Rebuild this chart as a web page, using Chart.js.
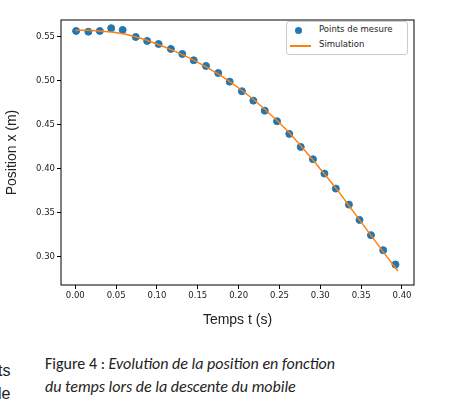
<!DOCTYPE html>
<html><head><meta charset="utf-8">
<script src="https://cdn.jsdelivr.net/npm/chart.js@4/dist/chart.umd.min.js"></script>
<style>
body{margin:0;background:#fff;width:453px;height:410px;position:relative;overflow:hidden;font-family:"Liberation Sans",Arial,sans-serif}
#wrap{position:absolute;left:0;top:0;width:453px;height:340px}
.cap{position:absolute;left:45px;font-family:Calibri,"Open Sans","Liberation Sans",sans-serif;font-size:16px;color:#222}
.frag{position:absolute;left:0;font-size:16px;color:#222}
#leg{position:absolute;left:286px;top:21px;width:120px;height:32px;border:1px solid #ccc;border-radius:3px;background:#fff;font-family:"DejaVu Sans",sans-serif;font-size:8.5px;color:#222}
</style></head><body>
<div id="wrap"><canvas id="c"></canvas></div>
<div id="leg">
<div style="position:absolute;left:8px;top:5px;width:7px;height:7px;border-radius:50%;background:#1f77b4"></div>
<div style="position:absolute;left:32px;top:2px">Points de mesure</div>
<div style="position:absolute;left:3px;top:23px;width:21px;height:1.5px;background:#ff7f0e"></div>
<div style="position:absolute;left:32px;top:17px">Simulation</div>
</div>
<div class="cap" style="top:354px">Figure 4 : <i>Evolution de la position en fonction</i></div>
<div class="cap" style="top:377px"><i>du temps lors de la descente du mobile</i></div>
<div class="frag" style="top:362px;left:-2px">ts</div>
<div class="frag" style="top:385px;left:-2px">le</div>
<script>
const measureT=[0.001,0.016,0.030,0.044,0.058,0.074,0.088,0.102,0.117,0.131,0.145,0.160,0.175,0.189,0.204,0.218,0.232,0.247,0.262,0.276,0.291,0.305,0.319,0.335,0.348,0.362,0.377,0.392];
const measureX=[0.5568,0.556,0.5568,0.560,0.558,0.550,0.5455,0.542,0.5364,0.5307,0.5235,0.517,0.509,0.4992,0.4883,0.4776,0.4662,0.4542,0.4398,0.425,0.411,0.3947,0.3776,0.3594,0.342,0.3247,0.3076,0.2913];
const simT=[0,0.02,0.04,0.06,0.08,0.10,0.12,0.14,0.16,0.18,0.20,0.22,0.24,0.26,0.28,0.30,0.32,0.34,0.36,0.38,0.395];
const simX=[0.5575,0.5575,0.556,0.5535,0.5485,0.542,0.5345,0.526,0.516,0.505,0.492,0.4775,0.461,0.443,0.422,0.400,0.377,0.352,0.327,0.302,0.284];
const frame={id:'frame',afterDraw(c){const a=c.chartArea,x=c.ctx;x.save();x.strokeStyle='#000';x.lineWidth=1;x.strokeRect(a.left,a.top,a.right-a.left,a.bottom-a.top);x.restore();}};
const tickFont={family:'DejaVu Sans',size:8.5};
new Chart(document.getElementById('c'),{
type:'scatter',
data:{datasets:[
{label:'Simulation',type:'line',data:simT.map((t,i)=>({x:t,y:simX[i]})),borderColor:'#ff7f0e',borderWidth:1.5,pointRadius:0,tension:0.3,fill:false},
{label:'Points de mesure',data:measureT.map((t,i)=>({x:t,y:measureX[i]})),backgroundColor:'#1f77b4',borderColor:'#1f77b4',pointRadius:3.5}
]},
options:{responsive:true,maintainAspectRatio:false,animation:false,
layout:{padding:{left:0,right:39,top:20,bottom:7}},
plugins:{legend:{display:false},tooltip:{enabled:false}},
scales:{
x:{type:'linear',min:-0.0175,max:0.4147,afterFit(s){s.height=48;},
afterBuildTicks(s){s.ticks=[0,0.05,0.1,0.15,0.2,0.25,0.3,0.35,0.4].map(v=>({value:v}));},
ticks:{font:tickFont,color:'#222',callback:v=>v.toFixed(2),maxRotation:0,padding:2},
grid:{drawOnChartArea:false,tickLength:4,color:'#000'},border:{display:false},
title:{display:true,text:'Temps t (s)',font:{family:'Liberation Sans',size:14},color:'#222',padding:{top:0}}},
y:{min:0.268,max:0.5693,afterFit(s){s.width=61;},
afterBuildTicks(s){s.ticks=[0.3,0.35,0.4,0.45,0.5,0.55].map(v=>({value:v}));},
ticks:{font:tickFont,color:'#222',callback:v=>v.toFixed(2),padding:2},
grid:{drawOnChartArea:false,tickLength:4,color:'#000'},border:{display:false},
title:{display:true,text:'Position x (m)',font:{family:'Liberation Sans',size:14},color:'#222',padding:{bottom:6}}}
}},
plugins:[frame]});
</script></body></html>
